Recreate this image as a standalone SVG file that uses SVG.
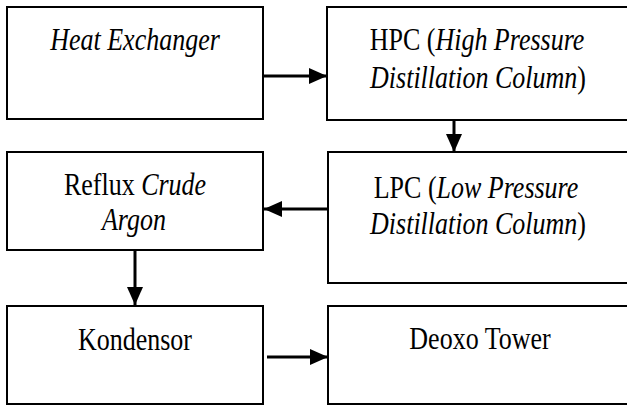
<svg xmlns="http://www.w3.org/2000/svg" width="627" height="408" viewBox="0 0 627 408">
<style>
.box{fill:#fff;stroke:#000;stroke-width:2}
.t{font-family:"Liberation Serif","Times New Roman",serif;font-size:26px;fill:#000;text-anchor:middle}
.i{font-style:italic}
.c{stroke:#000;stroke-width:3;fill:none;marker-end:url(#ah)}
</style>
<defs>
<marker id="ah" markerUnits="userSpaceOnUse" markerWidth="20" markerHeight="16" refX="18" refY="8" orient="auto">
<path d="M0,0 L18,8 L0,16 Z" fill="#000"/>
</marker>
</defs>
<rect width="627" height="408" fill="#fff"/>
<g id="heat-exchanger">
<rect class="box" x="7" y="7" width="256" height="112"/>
<text class="t i" transform="translate(135,50) scale(1,1.2)">Heat Exchanger</text>
</g>
<g id="hpc">
<rect class="box" x="327" y="7" width="320" height="113"/>
<text class="t" transform="translate(477,50) scale(1,1.2)">HPC (<tspan class="i">High Pressure</tspan></text>
<text class="t" transform="translate(478,88) scale(1,1.2)"><tspan class="i">Distillation Column</tspan>)</text>
</g>
<g id="reflux">
<rect class="box" x="7" y="152" width="256" height="98"/>
<text class="t" transform="translate(135,195) scale(1,1.2)">Reflux <tspan class="i">Crude</tspan></text>
<text class="t i" transform="translate(134,230) scale(1,1.2)">Argon</text>
</g>
<g id="lpc">
<rect class="box" x="328" y="152" width="320" height="131"/>
<text class="t" transform="translate(476,198) scale(1,1.2)">LPC (<tspan class="i">Low Pressure</tspan></text>
<text class="t" transform="translate(478,234) scale(1,1.2)"><tspan class="i">Distillation Column</tspan>)</text>
</g>
<g id="kondensor">
<rect class="box" x="7" y="306" width="256" height="98"/>
<text class="t" transform="translate(135,350) scale(1,1.2)">Kondensor</text>
</g>
<g id="deoxo">
<rect class="box" x="328" y="306" width="320" height="98"/>
<text class="t" transform="translate(480,349) scale(1,1.2)">Deoxo Tower</text>
</g>
<g id="connectors">
<line class="c" x1="264" y1="76" x2="327" y2="76"/>
<line class="c" x1="454" y1="121" x2="454" y2="152"/>
<line class="c" x1="328" y1="209" x2="264" y2="209"/>
<line class="c" x1="135" y1="251" x2="135" y2="305"/>
<line class="c" x1="267" y1="357" x2="328" y2="357"/>
</g>
</svg>
